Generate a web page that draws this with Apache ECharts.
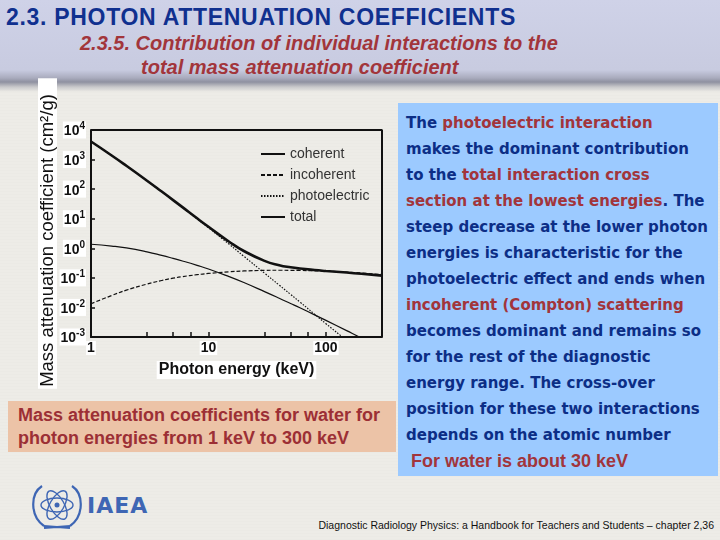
<!DOCTYPE html>
<html>
<head>
<meta charset="utf-8">
<script src="https://cdn.jsdelivr.net/npm/echarts@6/dist/echarts.min.js"></script>
<style>
  html, body { margin: 0; padding: 0; }
  body {
    width: 720px; height: 540px; position: relative; overflow: hidden;
    background: repeating-linear-gradient(180deg, #edece7 0px, #edece7 2px, #e9e8e3 3px);
    font-family: "Liberation Sans", Arial, sans-serif;
  }
  .header {
    position: absolute; left: 0; top: 0; width: 720px; height: 92px;
    background: linear-gradient(180deg, #cfd2e8 0px, #c8cbe0 70px, #a9abbd 78px, #8f91a0 82px, #c9c9cb 87px, rgba(236,235,230,0) 92px);
  }
  .title {
    position: absolute; left: 6px; top: 4px; color: #10308f; letter-spacing: 0.7px;
    font: bold 23px "Liberation Sans", Arial, sans-serif; white-space: nowrap;
  }
  .sub {
    position: absolute; color: #a2353b; white-space: nowrap;
    font: italic bold 20px "Liberation Sans", Arial, sans-serif;
  }
  .caption {
    position: absolute; left: 8px; top: 401px; width: 388px; height: 51px;
    background: #ecc3a7; color: #9c2f35; box-sizing: border-box; padding: 3px 0 0 10px;
    font: bold 18px/23px "Liberation Sans", Arial, sans-serif; white-space: nowrap;
  }
  .blue {
    position: absolute; left: 398px; top: 103px; width: 320px; height: 373px;
    background: #9ccaff; box-sizing: border-box; padding: 7px 0 0 8px;
    color: #0c2e86; font: bold 15px/26px "DejaVu Sans", Verdana, sans-serif; white-space: nowrap;
  }
  .blue .r { color: #a2353b; }
  .blue .last { font: bold 18px/26px "Liberation Sans", Arial, sans-serif; color: #a2353b; padding-left: 5px; }
  .footer {
    position: absolute; right: 6px; top: 519px; font: 10.5px "Liberation Sans", Arial, sans-serif; color: #111; white-space: nowrap;
  }
  .logo { position: absolute; left: 28px; top: 480px; }
  .iaea { position: absolute; left: 87px; top: 493px; color: #3e66b4; font: bold 22px "DejaVu Sans", Verdana, sans-serif; letter-spacing: 1px; }
  #chart { position: absolute; left: 0; top: 0; width: 400px; height: 400px; }
</style>
</head>
<body>
<div class="header"></div>
<div class="title">2.3. PHOTON ATTENUATION COEFFICIENTS</div>
<div class="sub" style="left:80px;top:32px;">2.3.5. Contribution of individual interactions to the</div>
<div class="sub" style="left:141px;top:56px;">total mass attenuation coefficient</div>

<div id="chart"></div>

<div class="caption">Mass attenuation coefficients for water for<br>photon energies from 1 keV to 300 keV</div>

<div class="blue">The <span class="r">photoelectric interaction</span><br>
makes the dominant contribution<br>
to the <span class="r">total interaction cross</span><br>
<span class="r">section at the lowest energies</span>. The<br>
steep decrease at the lower photon<br>
energies is characteristic for the<br>
photoelectric effect and ends when<br>
<span class="r">incoherent (Compton) scattering</span><br>
becomes dominant and remains so<br>
for the rest of the diagnostic<br>
energy range. The cross-over<br>
position for these two interactions<br>
depends on the atomic number<br>
<div class="last">For water is about 30 keV</div></div>

<svg class="logo" width="58" height="52" viewBox="0 0 58 52">
  <g fill="none" stroke="#3e66b4" stroke-width="2.2">
    <path d="M14 6 C2 14 2 36 16 46"/>
    <path d="M44 6 C56 14 56 36 42 46"/>
    <path d="M16 46 L42 48 M42 46 L16 48"/>
    <ellipse cx="29" cy="25" rx="7" ry="16" transform="rotate(30 29 25)" stroke-width="1.4"/>
    <ellipse cx="29" cy="25" rx="7" ry="16" transform="rotate(-30 29 25)" stroke-width="1.4"/>
    <ellipse cx="29" cy="25" rx="7" ry="16" transform="rotate(90 29 25)" stroke-width="1.4"/>
  </g>
  <circle cx="29" cy="25" r="2.5" fill="#3e66b4"/>
</svg>
<div class="iaea">IAEA</div>

<div class="footer">Diagnostic Radiology Physics: a Handbook for Teachers and Students – chapter 2,36</div>

<script>
// photon energy (keV)
const energy = [1, 1.5, 2, 3, 4, 5, 6, 8, 10, 15, 20, 30, 40, 50, 60, 80, 100, 150, 200, 300];
// mass attenuation coefficients for water (cm2/g)
const coherent = [1.37, 1.19, 1.03, 0.757, 0.575, 0.455, 0.372, 0.265, 0.200, 0.110, 0.0694, 0.0343, 0.0205, 0.0136, 0.00971, 0.0056, 0.00364, 0.00164, 0.00093, 0.00041];
const incoherent = [0.0133, 0.0253, 0.0383, 0.0617, 0.0816, 0.0975, 0.110, 0.128, 0.141, 0.160, 0.171, 0.179, 0.181, 0.180, 0.178, 0.173, 0.168, 0.156, 0.146, 0.129];
const photoelectric = [4076, 1374, 615, 192.5, 82.3, 42.2, 24.3, 9.92, 4.94, 1.37, 0.537, 0.1446, 0.0568, 0.0276, 0.0153, 0.0059, 0.00282, 0.00077, 0.00031, 0.000093];
const total = [4078, 1376, 617, 193, 82.8, 42.6, 24.6, 10.3, 5.33, 1.67, 0.810, 0.376, 0.268, 0.227, 0.206, 0.184, 0.171, 0.151, 0.137, 0.119];

const xLabels = [1, 10, 100];
const xTicks = [1, 3, 5, 7, 10, 30, 50, 70, 100, 300];

const pairs = ys => energy.map((e, i) => [e, ys[i]]);

const chart = echarts.init(document.getElementById('chart'), null, { renderer: 'canvas' });

const lineSeries = (name, data, width, type) => ({
  name, type: 'line', data: pairs(data), symbol: 'none', smooth: true,
  lineStyle: { color: '#111', width, type }, itemStyle: { color: '#111' }, z: width > 2 ? 3 : 2
});

chart.setOption({
  animation: false,
  backgroundColor: 'transparent',
  grid: { left: 91, top: 130, width: 291, height: 207, containLabel: false },
  legend: {
    orient: 'vertical', left: 255, top: 142, itemWidth: 24, itemHeight: 14, itemGap: 7,
    itemStyle: { opacity: 0 },
    textStyle: { fontSize: 14, color: '#333', fontFamily: 'Liberation Sans' },
    data: ['coherent', 'incoherent', 'photoelectric', 'total']
  },
  xAxis: {
    type: 'log', logBase: 10, min: 1, max: 300,
    name: 'Photon energy (keV)', nameLocation: 'middle', nameGap: 24,
    nameTextStyle: { fontSize: 16, fontWeight: 'bold', color: '#111', backgroundColor: '#fff', padding: [1, 2] },
    axisLine: { lineStyle: { color: '#111', width: 2 } },
    axisTick: { inside: true, length: 5, customValues: xTicks, lineStyle: { color: '#111', width: 1.5 } },
    axisLabel: {
      customValues: xLabels, margin: 4, fontSize: 14, fontWeight: 'bold', color: '#111',
      backgroundColor: '#fff', padding: [0, 1]
    },
    splitLine: { show: false }
  },
  yAxis: {
    type: 'log', logBase: 10, min: 0.001, max: 10000,
    name: 'Mass attenuation coefficient (cm²/g)', nameLocation: 'middle', nameGap: 34, nameRotate: 90,
    nameMoveOverlap: false,
    nameTextStyle: { fontSize: 18.5, color: '#111', backgroundColor: '#fff', padding: [0, 16, 0, 2] },
    axisLine: { lineStyle: { color: '#111', width: 2 } },
    axisTick: { inside: true, length: 4, lineStyle: { color: '#111', width: 1.5 } },
    axisLabel: {
      margin: 5, color: '#111', backgroundColor: '#fff', padding: [0, 1],
      formatter: v => '{b|10}{s|' + Math.round(Math.log10(v)) + '}',
      rich: {
        b: { fontSize: 14, fontWeight: 'bold', color: '#111', verticalAlign: 'bottom' },
        s: { fontSize: 10, fontWeight: 'bold', color: '#111', verticalAlign: 'top', padding: [0, 0, 7, 0] }
      }
    },
    splitLine: { show: false }
  },
  series: [
    lineSeries('coherent', coherent, 1.2, 'solid'),
    lineSeries('incoherent', incoherent, 1.2, [4, 2]),
    lineSeries('photoelectric', photoelectric, 1.2, [1.5, 1.5]),
    lineSeries('total', total, 2.6, 'solid'),
    // frame: top and right edges of the plot box
    {
      type: 'line', data: [[1, 10000], [300, 10000], [300, 0.001]], symbol: 'none', silent: true,
      lineStyle: { color: '#111', width: 2 }, legendHoverLink: false, clip: false
    }
  ]
});
</script>
</body>
</html>
